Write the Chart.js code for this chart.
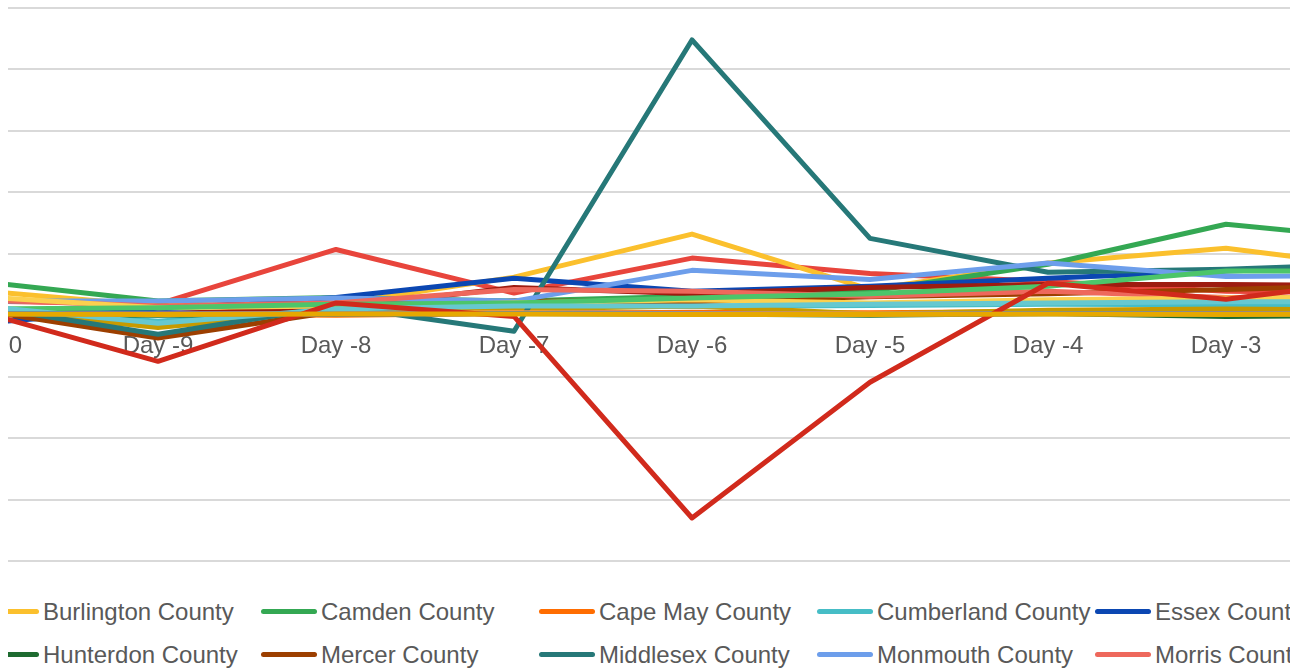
<!DOCTYPE html>
<html>
<head>
<meta charset="utf-8">
<script src="https://cdn.jsdelivr.net/npm/chart.js@4/dist/chart.umd.min.js"></script>
<style>
  html, body { margin: 0; padding: 0; background: #fff; }
  body { width: 1290px; height: 668px; position: relative; overflow: hidden; }
  #frame { position: absolute; left: 8px; top: 0; width: 1282px; height: 668px; overflow: hidden; }
  #plot { position: absolute; left: -28px; top: 4px; width: 1424px; height: 561px; }
  #legend {
    position: absolute; left: -581px; top: 590px;
    display: grid; grid-template-columns: repeat(7, 278px); grid-auto-rows: 43px;
    font: 24px "Liberation Sans", Arial, sans-serif; color: #595959;
  }
  .item { display: flex; align-items: center; white-space: nowrap; }
  .mark { width: 56px; height: 5px; border-radius: 3px; margin-right: 4px; flex: none; }
</style>
</head>
<body>
<div id="frame">
  <div id="plot"><canvas id="chart"></canvas></div>
  <div id="legend"></div>
</div>
<script>
const days = ['Day -10', 'Day -9', 'Day -8', 'Day -7', 'Day -6', 'Day -5', 'Day -4', 'Day -3', 'Day -2'];

const counties = [
  'Atlantic County', 'Bergen County', 'Burlington County', 'Camden County', 'Cape May County',
  'Cumberland County', 'Essex County', 'Gloucester County', 'Hudson County', 'Hunterdon County',
  'Mercer County', 'Middlesex County', 'Monmouth County', 'Morris County', 'Ocean County',
  'Passaic County', 'Salem County', 'Somerset County', 'Sussex County', 'Union County', 'Warren County',
];

const colors = [
  '#1a66e8', '#e8453c', '#fbc02d', '#34a853', '#ff6d01',
  '#46bdc6', '#0b47b2', '#9e1c10', '#c79a00', '#1e6b30',
  '#9c3f00', '#267878', '#6d9eeb', '#ee685c', '#fcd04f',
  '#4cc56a', '#ff994d', '#66c8d0', '#3d7be0', '#d12a1c', '#e6a800',
];

const atlantic   = [8, 4, 3, 5, 3, 2, 4, 4, 5];
const bergen     = [23, 18, 107, 36, 93, 68, 55, 39, 36];
const burlington = [40, 15, 18, 62, 132, 42, 85, 109, 73];
const camden     = [55, 23, 29, 23, 31, 39, 83, 148, 120];
const capeMay    = [4, 2, 0, 3, 5, 4, 6, 5, 5];
const cumberland = [12, -10, 12, 15, 14, 16, 18, 17, 18];
const essex      = [-13, 10, 29, 60, 39, 47, 60, 72, 80];
const gloucester = [5, 2, 12, 45, 35, 45, 50, 50, 48];
const hudson     = [10, -20, 8, 10, 15, 2, 8, 10, 8];
const hunterdon  = [2, 0, 2, 3, 2, 0, 3, -2, 0];
const mercer     = [8, -37, 6, 23, 22, 30, 35, 42, 50];
const middlesex  = [15, -31, 15, -26, 448, 125, 70, 75, 85];
const monmouth   = [23, 23, 28, 23, 73, 58, 85, 63, 65];
const morris     = [25, 15, 20, 42, 39, 31, 39, 29, 30];
const ocean      = [30, 12, 15, 20, 25, 20, 25, 28, 30];
const passaic    = [10, 12, 18, 20, 28, 35, 47, 72, 72];
const salem      = [3, 2, 3, 4, 3, 2, 3, 2, 3];
const somerset   = [15, -13, 10, 15, 15, 18, 20, 22, 22];
const sussex     = [3, 2, 2, 3, 2, 1, 3, 2, 2];
const union      = [6, -75, 20, -2, -330, -109, 52, 26, 62];
const warren     = [2, 1, 2, 2, 1, 1, 2, 1, 2];

const series = [
  atlantic, bergen, burlington, camden, capeMay, cumberland, essex, gloucester, hudson, hunterdon,
  mercer, middlesex, monmouth, morris, ocean, passaic, salem, somerset, sussex, union, warren,
];

const textGrey = '#595959';
Chart.defaults.font.family = '"Liberation Sans", Arial, sans-serif';

const chart = new Chart(document.getElementById('chart'), {
  type: 'line',
  data: {
    labels: days,
    datasets: series.map((values, i) => ({
      label: counties[i],
      data: values,
      borderColor: colors[i],
      backgroundColor: colors[i],
      borderWidth: 5,
      pointRadius: 0,
      tension: 0,
      borderJoinStyle: 'round',
      borderCapStyle: 'round',
      order: -i, // later series sit on top
    })),
  },
  options: {
    responsive: true,
    maintainAspectRatio: false,
    animation: false,
    layout: { padding: { left: 0, right: 0, top: 4, bottom: 4 } },
    plugins: { legend: { display: false }, tooltip: { enabled: false } },
    scales: {
      x: {
        position: { y: 0 },
        offset: false,
        grid: { display: false, drawTicks: false },
        border: { display: false },
        ticks: {
          color: textGrey,
          font: { size: 24 },
          padding: 17,
          maxRotation: 0,
          autoSkip: false,
        },
        afterFit: (scale) => { scale.paddingLeft = 0; scale.paddingRight = 0; },
      },
      y: {
        min: -400,
        max: 500,
        grid: { color: '#d9d9d9', lineWidth: 2, drawTicks: false },
        border: { display: false },
        ticks: { display: false, stepSize: 100 },
      },
    },
  },
});

// Legend laid out in fixed-width columns, like the source chart
const legend = document.getElementById('legend');
chart.data.datasets.forEach((ds) => {
  const item = document.createElement('div');
  item.className = 'item';
  const mark = document.createElement('span');
  mark.className = 'mark';
  mark.style.background = ds.borderColor;
  item.appendChild(mark);
  item.appendChild(document.createTextNode(ds.label));
  legend.appendChild(item);
});
</script>
</body>
</html>
